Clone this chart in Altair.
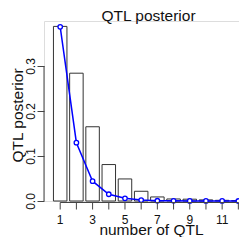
import altair as alt
import pandas as pd

n_qtl = list(range(1, 13))
x_labels = [1, 3, 5, 7, 9, 11]
bar_post = [0.388, 0.284, 0.165, 0.081, 0.049, 0.0216, 0.009, 0.0045, 0.004, 0.0025, 0.0015, 0.001]
pt_post = [0.387, 0.1296, 0.044, 0.015, 0.006, 0.002, 0.0006, 0.0003, 0.0002, 0.0001, 0.0001, 0.0]
y_ticks = [0.0, 0.1, 0.2, 0.3]
x_axis_span = [1, 12]
main_title = "QTL posterior"

df = pd.DataFrame({"n": n_qtl, "bar": bar_post, "pt": pt_post})
lab_df = pd.DataFrame({"n": x_labels, "lab": [str(v) for v in x_labels]})
span_df = pd.DataFrame({"a": [x_axis_span[0]], "b": [x_axis_span[1]],
                        "y0": [y_ticks[0]], "y1": [y_ticks[-1]]})

W, H = 195, 180
FONT = "Liberation Sans"
AX = "#444"
xs = alt.Scale(domain=[0, 12.04], nice=False, zero=False, padding=0)
ys = alt.Scale(domain=[0, 0.4], nice=False, padding=0)

x_axis = alt.Axis(values=x_labels, domain=False, grid=False, ticks=False, labels=False,
                  offset=1,
                  title="number of QTL", titleFontSize=15.5, titleFontWeight="normal",
                  titleFont=FONT, titleColor="#111", titleX=107, titleY=32,
                  titleBaseline="alphabetic", titleAlign="center")
y_axis = alt.Axis(values=y_ticks, format=".1f", domain=False, grid=False, tickSize=7,
                  tickColor=AX, tickWidth=1, labelAngle=270, labelAlign="center",
                  labelBaseline="alphabetic", labelPadding=3, labelFontSize=12,
                  labelColor="#111", labelFont=FONT, labelFlush=False, labelOverlap=False,
                  title="QTL posterior", titleFontSize=15.5, titleFontWeight="normal",
                  titleFont=FONT, titleColor="#111", titleAngle=270, titleX=-21.5,
                  titleY=94, titleBaseline="alphabetic", titleAlign="center")

base = alt.Chart(df)
bars = base.mark_bar(width=13.5, fill="white", stroke="#333", strokeWidth=1).encode(
    x=alt.X("n:Q", scale=xs, axis=x_axis),
    y=alt.Y("bar:Q", scale=ys, axis=y_axis),
)
line = base.mark_line(color="#0000ff", strokeWidth=1.5).encode(
    x=alt.X("n:Q", scale=xs), y=alt.Y("pt:Q", scale=ys))
pts = base.mark_point(shape="circle", filled=True, fill="white", stroke="#0000ff",
                      size=20, strokeWidth=1.3, opacity=1).encode(
    x=alt.X("n:Q", scale=xs), y=alt.Y("pt:Q", scale=ys))

xticks = base.mark_rule(color=AX, strokeWidth=1).encode(
    x=alt.X("n:Q", scale=xs), y=alt.value(H + 1.5), y2=alt.value(H + 8.5))
xrule = alt.Chart(span_df).mark_rule(color=AX, strokeWidth=1).encode(
    x=alt.X("a:Q", scale=xs), x2="b:Q", y=alt.value(H + 1.5))
yrule = alt.Chart(span_df).mark_rule(color=AX, strokeWidth=1).encode(
    y=alt.Y("y0:Q", scale=ys), y2="y1:Q", x=alt.value(0))
xlabels = alt.Chart(lab_df).mark_text(font=FONT, fontSize=12, color="#111",
                                      baseline="top", align="center").encode(
    x=alt.X("n:Q", scale=xs), y=alt.value(H + 14), text="lab:N")

chart = alt.layer(bars, line, pts, xticks, xrule, yrule, xlabels).properties(
    width=W, height=H,
    title=alt.TitleParams(main_title, fontSize=15.5, fontWeight="normal", font=FONT,
                          color="#111", baseline="alphabetic", offset=-15, dx=7,
                          anchor="middle"),
    autosize=alt.AutoSizeParams(type="none"),
    padding={"left": 36, "top": 13, "right": 0, "bottom": 36},
).configure_view(stroke=None).configure(background="white")

chart.save("out.html", embed_options={"renderer": "svg", "actions": False})
